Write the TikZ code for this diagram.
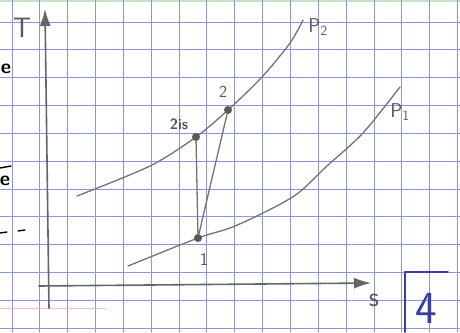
\documentclass[tikz,border=0pt]{standalone}
\usetikzlibrary{arrows.meta}
\definecolor{gridblue}{RGB}{140,152,212}
\definecolor{inkblue}{RGB}{55,65,165}
\begin{document}
\begin{tikzpicture}[x=1pt,y=-1pt, line join=round, line cap=round,
	gridline/.style={gridblue,line width=1pt},
	pencil/.style={draw=black!55,line width=1.3pt},
	axis/.style={draw=black!60,line width=1.6pt,-{Latex[length=17pt,width=11pt]}},
	dot/.style={circle,fill=black!65,inner sep=0pt,minimum size=8pt},
	hand/.style={text=black!65,font=\sffamily}]
	\def\sq{27.85}
	\useasboundingbox (0,0) rectangle (460,332);
	\fill[white] (0,0) rectangle (460,332);
	\fill[green!30!gray!35] (0,0) rectangle (460,2);
	\foreach \i in {0,...,16} \draw[gridline] ({12+\i*\sq},0) -- ({12+\i*\sq},332);
	\foreach \j in {0,...,11} \draw[gridline] (0,{22+\j*\sq}) -- (460,{22+\j*\sq});
	\draw[red!25,line width=1pt] (0,308) -- (105,308);
	\node[font=\sffamily\bfseries\fontsize{20}{20}\selectfont] (frag1) at (6,69) {e};
	\node[font=\sffamily\bfseries\fontsize{20}{20}\selectfont] (frag2) at (5,181) {e};
	\draw[line width=1.4pt] (0,168) -- (11,166);
	\draw[line width=1.4pt] (18,231) -- (25,230);
	\draw[line width=1.4pt] (0,233) -- (7,232);
	\coordinate (tbot) at (49,308);
	\coordinate (ttop) at (45,9);
	\coordinate (sleft) at (39,286);
	\coordinate (sright) at (371,283);
	\draw[axis] (tbot) -- (ttop);
	\draw[axis] (sleft) -- (sright);
	\node[hand,font=\sffamily\fontsize{28}{28}\selectfont] (tlab) at (22,28) {T};
	\node[hand,font=\sffamily\fontsize{28}{28}\selectfont] (slab) at (374,300) {s};
	\draw[pencil] plot[smooth] coordinates {(77,196) (150,166) (196,137) (228,110) (262,77) (290,43) (303,20)};
	\draw[pencil] plot[smooth] coordinates {(128,266) (198,238) (230,228) (263,213) (297,194) (327,166) (363,133) (400,87)};
	\node[hand,font=\sffamily\fontsize{20}{20}\selectfont] (ptwo) at (318,27) {P\textsubscript{2}};
	\node[hand,font=\sffamily\fontsize{20}{20}\selectfont] (pone) at (400,112) {P\textsubscript{1}};
	\node[dot] (two) at (228,110) {};
	\node[dot] (twois) at (196,137) {};
	\node[dot] (one) at (198,238) {};
	\draw[pencil] (twois) -- (one);
	\draw[pencil] (one) -- (two);
	\node[hand,font=\sffamily\fontsize{17}{17}\selectfont] (ltwo) at (223,92) {2};
	\node[hand,font=\sffamily\bfseries\fontsize{15}{15}\selectfont] (ltwois) at (179,124) {2is};
	\node[hand,font=\sffamily\fontsize{18}{18}\selectfont] (lone) at (204,259) {1};
	\draw[inkblue,line width=1.6pt] (405,332) -- (405,272) -- (448,272);
	\node[text=inkblue,font=\sffamily\fontsize{46}{46}\selectfont] (num) at (426,308) {4};
\end{tikzpicture}
\end{document}
